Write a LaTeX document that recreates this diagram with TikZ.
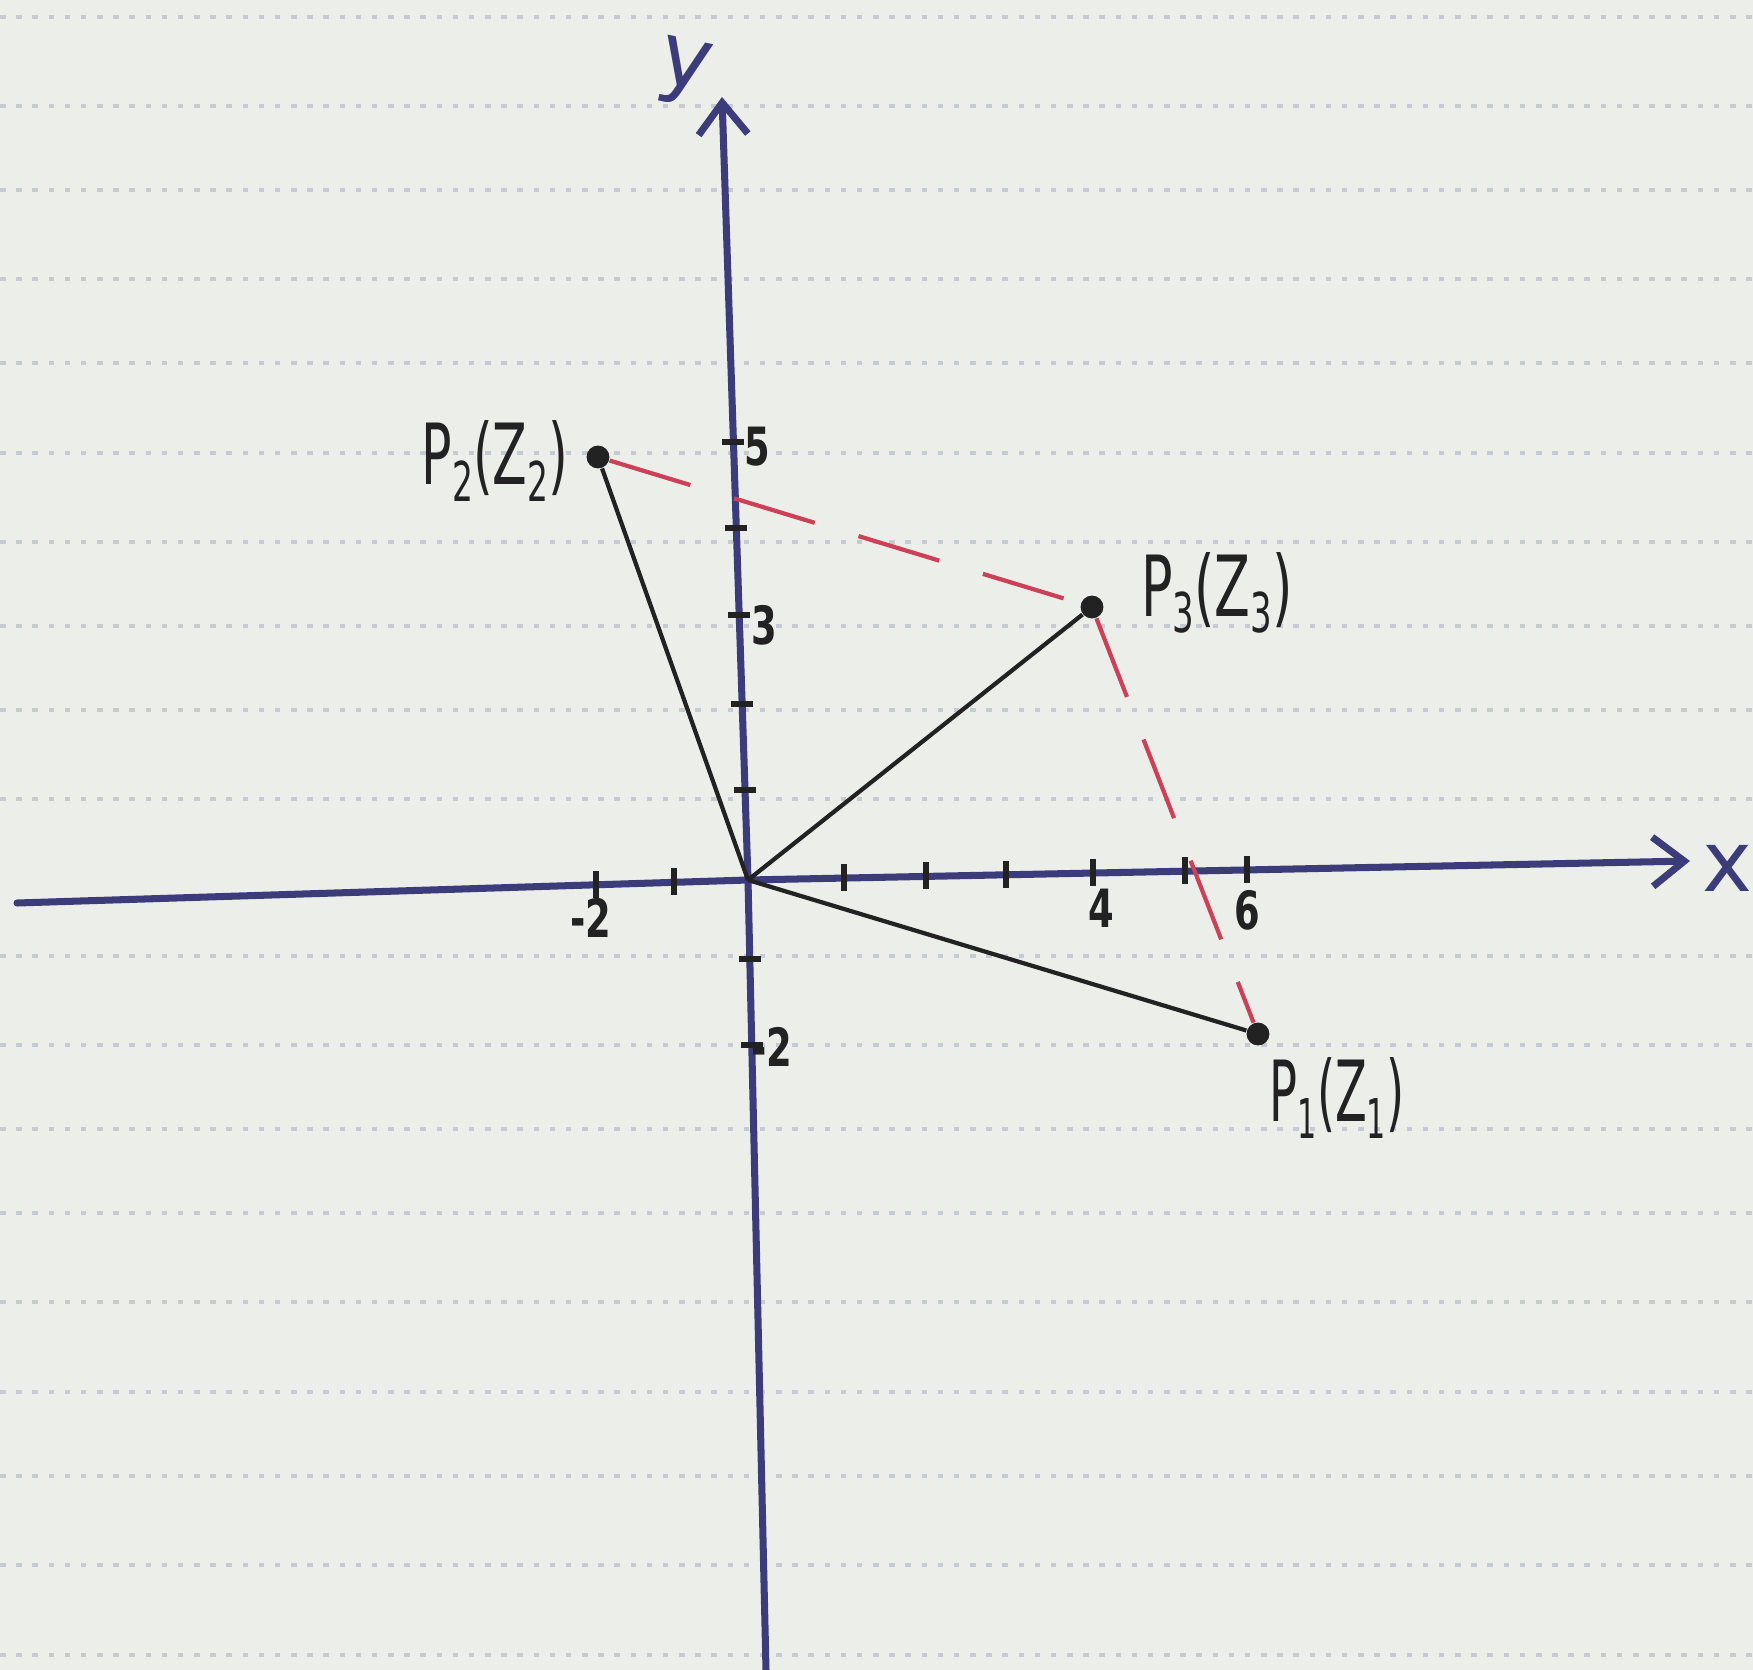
\documentclass[tikz,border=0pt]{standalone}
\usepackage{fontspec}
\setmainfont{DejaVu Sans}
\usepackage{graphicx}
\usetikzlibrary{arrows.meta}
\definecolor{paper}{HTML}{ECEEEA}
\definecolor{rulecol}{HTML}{C6CAD1}
\definecolor{axisblue}{HTML}{3C3C7A}
\definecolor{ink}{HTML}{222222}
\definecolor{redink}{HTML}{CC4058}
\newcommand{\lowsub}[1]{\raisebox{-0.35ex}{\scalebox{0.65}{#1}}}
\newcommand{\hand}[2]{\scalebox{#1}[1]{#2}}
\begin{document}
\begin{tikzpicture}[x=0.1mm,y=-0.1mm,
  axisline/.style={draw=axisblue,line width=2pt,line cap=round,line join=round},
  axishead/.style={-{Straight Barb[length=9pt,width=14pt,line width=2pt]}},
  tickmark/.style={draw=ink,line width=1.8pt},
  vecline/.style={draw=ink,line width=1.2pt},
  redline/.style={draw=redink,line width=1.2pt,dash pattern=on 24pt off 13pt},
  ptdot/.style={circle,fill=ink,inner sep=0pt,minimum size=6.5pt},
  ptlabel/.style={font=\fontsize{24}{26}\selectfont,text=ink,inner sep=0pt},
  numlabel/.style={font=\bfseries\fontsize{15}{16}\selectfont,text=ink,inner sep=0pt},
  axlabel/.style={text=axisblue,inner sep=0pt},
  ruleline/.style={draw=rulecol,line width=1pt,dash pattern=on 1.6pt off 3pt}]
\fill[paper] (0,0) rectangle (1753,1670);
\useasboundingbox (0,0) rectangle (1753,1670);
% ruled paper
\foreach \yy in {17,106,190,279,363,453,542,626,710,799,956,1045,1129,1213,1302,1392,1476,1565,1655}
  \draw[ruleline] (0,\yy) -- (1753,\yy);
% axes
\coordinate (xl) at (17,903);
\coordinate (O) at (748,880);
\coordinate (xr) at (1690,861);
\coordinate (yb) at (766,1670);
\coordinate (yt) at (722,97);
\draw[axisline,axishead] (xl) -- (O) -- (xr);
\draw[axisline,axishead] (yb) -- (O) -- (yt);
\node[axlabel,font=\fontsize{25}{27}\selectfont,rotate=-12] (ylab) at (684,72) {y};
\node[axlabel,font=\fontsize{24}{26}\selectfont] (xlab) at (1727,868) {x};
% x ticks
\foreach \xx/\yy in {596/885,674/882,844/878,926/876,1006/875,1093/873,1185/871,1247/870}
  \draw[tickmark] (\xx,\yy-14) -- (\xx,\yy+13);
% y ticks
\foreach \yy/\xx in {442/733,528/736,615/739,704/742,790/745,959/750,1045/752}
  \draw[tickmark] (\xx-11,\yy) -- (\xx+11,\yy);
% tick labels
\node[numlabel] (lxm2) at (591,918) {\hand{0.7}{-2}};
\node[numlabel] (lx4) at (1101,908) {\hand{0.7}{4}};
\node[numlabel] (lx6) at (1247,910) {\hand{0.7}{6}};
\node[numlabel] (ly5) at (757,447) {\hand{0.7}{5}};
\node[numlabel] (ly3) at (764,625) {\hand{0.7}{3}};
\node[numlabel] (lym2) at (772,1047) {\hand{0.7}{-2}};
% points
\node[ptdot] (P1) at (1258,1034) {};
\node[ptdot] (P2) at (598,457) {};
\node[ptdot] (P3) at (1092,607) {};
% vectors from origin
\draw[vecline] (O) -- (P2);
\draw[vecline] (O) -- (P3);
\draw[vecline] (O) -- (P1);
% red dashed sides
\draw[redline] (P2) -- (P3);
\draw[redline] (P3) -- (P1);
% point labels
\node[ptlabel] (L2) at (495,461) {\hand{0.6}{P\lowsub{2}(Z\lowsub{2})}};
\node[ptlabel] (L3) at (1217,593) {\hand{0.62}{P\lowsub{3}(Z\lowsub{3})}};
\node[ptlabel] (L1) at (1337,1098) {\hand{0.55}{P\lowsub{1}(Z\lowsub{1})}};
\end{tikzpicture}
\end{document}
